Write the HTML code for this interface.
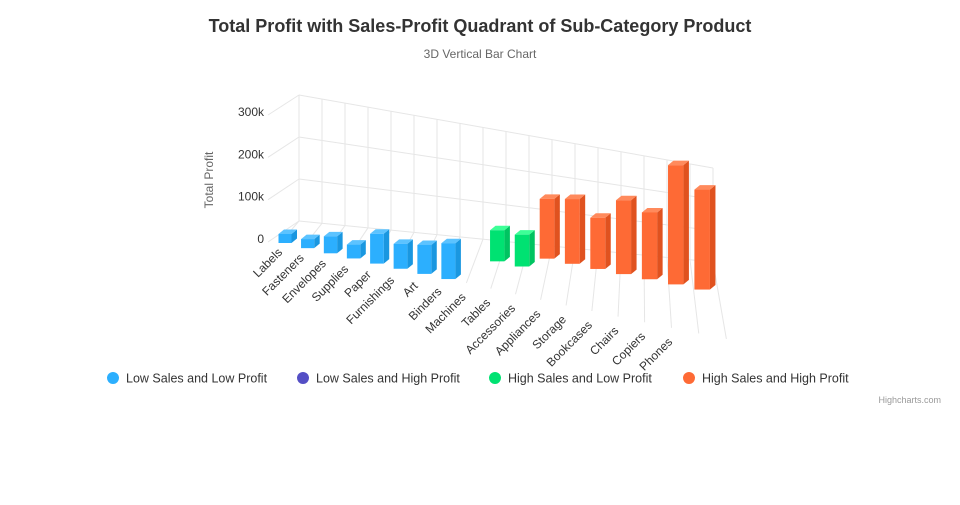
<!DOCTYPE html>
<html><head><meta charset="utf-8"><style>
body{margin:0;background:#fff;font-family:"Liberation Sans",Arial,sans-serif}
svg text{font-family:"Liberation Sans",Arial,sans-serif}
</style></head><body>
<svg id="chart" width="960" height="500" xmlns="http://www.w3.org/2000/svg">
<rect width="960" height="500" fill="#fff"/>
<text x="480" y="32" text-anchor="middle" font-size="18" font-weight="bold" fill="#333">Total Profit with Sales-Profit Quadrant of Sub-Category Product</text>
<text x="480" y="58" text-anchor="middle" font-size="12" fill="#666">3D Vertical Bar Chart</text>
<text transform="translate(213,180) rotate(-90)" text-anchor="middle" font-size="12" fill="#666">Total Profit</text>
<g id="grid"></g>
<g id="ylabels"></g>
<g id="bars"></g>
<g id="xlabels"></g>
<g id="legend"></g>
<text x="941" y="403" text-anchor="end" font-size="9" fill="#999">Highcharts.com</text>
</svg>
<script>
const categories = ["Labels","Fasteners","Envelopes","Supplies","Paper","Furnishings","Art","Binders","Machines","Tables","Accessories","Appliances","Storage","Bookcases","Chairs","Copiers","Phones",""];
const seriesNames = ["Low Sales and Low Profit","Low Sales and High Profit","High Sales and Low Profit","High Sales and High Profit"];
const seriesOfPoint = [0,0,0,0,0,0,0,0,2,2,2,3,3,3,3,3,3,3];
const profitValues = [20000,20000,37000,30000,64000,53000,61000,75000,null,64000,65000,121000,130000,102000,146000,131000,232000,193000];
const yTicks = [0,100000,200000,300000];
const yTickLabels = ["0","100k","200k","300k"];

const NS="http://www.w3.org/2000/svg";
function el(tag,attrs,parent){const e=document.createElementNS(NS,tag);for(const k in attrs)e.setAttribute(k,attrs[k]);parent.appendChild(e);return e;}
const colors=[["#2caffe","#1a97e0","#5cc3ff"],["#544fc5","#403bb0","#706bd8"],["#00e272","#00c461","#3dff97"],["#fe6a35","#e0521f","#ff8a5c"]];
const depthOff=[0,-14,-28,-41];
const N=categories.length;
function barX(i){return 285+22.5*i+0.12*i*i;}
function barBase(i,s){return 243+5.15*i+depthOff[s];}
function scaleAt(i){return (45+0.4*i)/100000;}
function labX(i){return 283+21.5*i+0.18*i*i;}
function labY(i){return 253+5.6*i;}
function backY(v,t){const topL=95,botL=221,topR=168,botR=262;const yl=botL-(botL-topL)*v/300000,yr=botR-(botR-topR)*v/300000;return yl+(yr-yl)*t;}
function backX(t){return 299+(713-299)*t;}
const grid=document.getElementById('grid');
yTicks.forEach((v,k)=>{
  let l=el('line',{x1:backX(0),y1:backY(v,0),x2:backX(1),y2:backY(v,1),stroke:"#e6e6e6"},grid);
  
  
  const fy=239-(239-112)*v/300000+3;
  let l2=el('line',{x1:backX(0),y1:backY(v,0),x2:268,y2:fy,stroke:"#e6e6e6"},grid);
  
  
  let t=el('text',{x:264,y:fy+1,"text-anchor":"end","font-size":"12",fill:"#333"},document.getElementById('ylabels'));
  t.textContent=yTickLabels[k];
  
  
});
for(let i=0;i<=N;i++){
  const t=i/N;
  let v=el('line',{x1:backX(t),y1:backY(0,t),x2:backX(t),y2:backY(300000,t),stroke:"#e6e6e6"},grid);
  
  
  const fx=labX(i-0.5)+12, fy=labY(i-0.5)-12;
  let f=el('line',{x1:backX(t),y1:backY(0,t),x2:fx,y2:fy,stroke:"#e6e6e6"},grid);
  
  
}
const bars=document.getElementById('bars');
for(let i=0;i<N;i++){
  const v=profitValues[i]; if(v==null) continue;
  const s=seriesOfPoint[i], c=colors[s];
  const w=13+0.15*i, cx=barX(i), x0=cx-w/2, x1=cx+w/2;
  const yb=barBase(i,s), h=v*scaleAt(i), yt=yb-h;
  const dx=5.5, dy=-4.5;
  const g=el('g',{},bars);
  
  
  el('polygon',{points:`${x1},${yt} ${x1+dx},${yt+dy} ${x1+dx},${yb+dy} ${x1},${yb}`,fill:c[1]},g);
  el('polygon',{points:`${x0},${yt} ${x0+dx},${yt+dy} ${x1+dx},${yt+dy} ${x1},${yt}`,fill:c[2]},g);
  el('rect',{x:x0,y:yt,width:w,height:h,fill:c[0]},g);
}
const xl=document.getElementById('xlabels');
categories.forEach((name,i)=>{
  if(!name) return;
  const x=labX(i), y=labY(i);
  const t=el('text',{x:x,y:y,"text-anchor":"end","font-size":"12",fill:"#333",transform:`rotate(-45 ${x} ${y})`},xl);
  t.textContent=name;
  
  
});
const lg=document.getElementById('legend');
const legX=[113,303,495,689];
seriesNames.forEach((n,s)=>{
  const g=el('g',{},lg);
  
  
  el('circle',{cx:legX[s],cy:378,r:6,fill:colors[s][0]},g);
  const t=el('text',{x:legX[s]+13,y:382.5,"font-size":"12.5",fill:"#333"},g);
  t.textContent=n;
});
</script>
</body></html>
